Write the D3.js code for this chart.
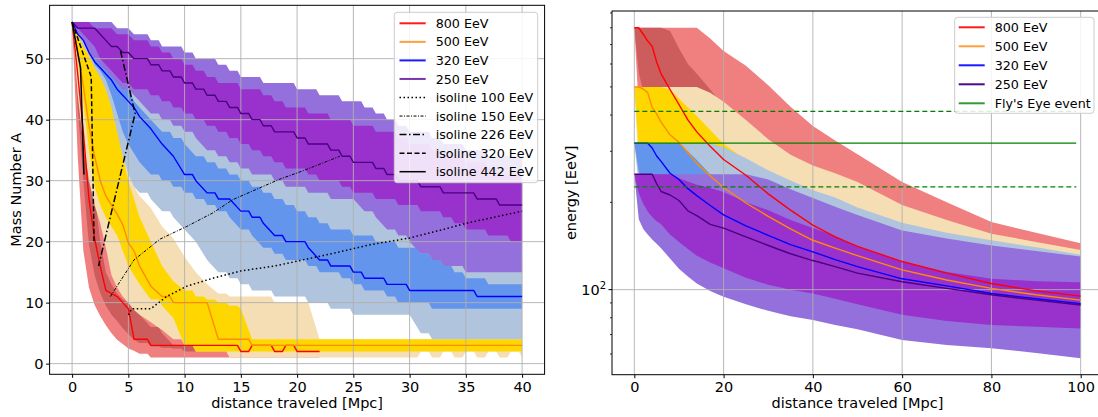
<!DOCTYPE html>
<html>
<head>
<meta charset="utf-8">
<script src="https://cdn.jsdelivr.net/npm/d3@7"></script>
<style>
  body { margin: 0; background: #fff; }
  svg text { font-family: "DejaVu Sans", sans-serif; fill: #000; }
</style>
</head>
<body>
<svg id="fig" width="1098" height="417"></svg>
<script>
// ---- left panel: mass number vs distance ----
var massDist = [0,0.5,1,1.5,2,2.5,3,3.5,4,4.5,5,5.5,6,
  7,8,9,10,11,12,13,14,15,16,17,18,19,20,21,22,23,24,25,26,27,28,29,30,31,32,33,34,35,36,37,38,39,40];

var a800Hi2 = [56,55.5,53,46,37,28,21,17,14.5,12.5,11,10,9,
  7,6,5,4,4,4,4,3.5,3,3,3,3,3,3,3,3, null,null,null,null,null,null,null,null,null,null,null,null,null,null,null,null,null,null];
var a800Hi1 = [56,54,48,38,28,20,15,13,11.5,10.5,10,9,8,
  6,5,3,3,3,3,3,3,3,3,3,3,3,3,3,3, null,null,null,null,null,null,null,null,null,null,null,null,null,null,null,null,null,null];
var a800Med = [56,47.5,38,27,20.5,16,12,11.5,11,10,9,4,4,
  3,3,3,3,3,3,3,3,2,3,3,2,3,2,2,2, null,null,null,null,null,null,null,null,null,null,null,null,null,null,null,null,null,null];
var a800Lo1 = [56,42,30,19.5,14.5,11.6,9.5,8,7,5.8,4.8,3.9,3.4,
  2.8,2.6,2.5,2,2,2,2,2,2,2,2,2,2,2,2,2, null,null,null,null,null,null,null,null,null,null,null,null,null,null,null,null,null,null];
var a800Lo2 = [56,34,18.5,12.5,9.6,7.8,6.3,5,3.9,3.2,2.5,2.1,1.6,
  1,1,1,1,1,1,1,1,1,1,1,1,1,1,1,1, null,null,null,null,null,null,null,null,null,null,null,null,null,null,null,null,null,null];

var a500Hi2 = [56,55.5,54.5,53,51,49,47,44,40,35,31,29,27.5,
  25.5,22.5,20.5,17.5,15,13,11.5,11,11,11,11,10,10,10,10,4,4,4,4,4,4,4,4,4,4,4,4,4,4,4,4,4,4,4];
var a500Hi1 = [56,55,54,52,50,48,46,43,39,34,30,27,24,
  20,16,13.5,12,11,10.5,10,9.5,9,4,4,4,4,4,4,4,4,4,4,4,4,4,4,4,4,4,4,4,4,4,4,4,4,4];
var a500Med = [56,51,45.5,39,34,30,27.5,26,24.5,22.8,19.8,18.5,16,
  12.7,11,10,10,10,10,4,4,4,3,3,3,3,3,3,3,3,3,3,3,3,3,3,3,3,3,3,3,3,3,3,3,3,3];
var a500Lo1 = [56,50,43,35,29,26,24,22.5,21,18.5,16,14.5,13,
  10.5,9.5,7.5,3,2,2,2,2,2,2,2,2,2,2,2,2,2,2,2,2,2,2,2,2,2,2,2,2,2,2,2,2,2,2];
var a500Lo2 = [56,44,36,30,26,23,19,14.5,12.5,11,10,8.8,8,
  6.8,5.5,4,3,2,2,2,1,1,1,1,1,1,1,1,1,1,1,1,1,1,1,1,1,2,1,2,1,2,1,2,1,2,1];

var a320Hi2 = [56,55,54,53,52,51,50,49,48,47,47,46,45,
  43,42,41,40,39,37,36,35,34,33,33,32,31,31,30,30,29,29,29,27,26,24,23,22,20,19,18,18,17,17,17,17,17,17];
var a320Hi1 = [56,55,55,54,53,51,50,48,47,46,45,43,42,
  40,38,37,36,34,33,32,31,30,29,28,27,26,25,24,23,22,22,21,21,20,20,19,19,18,17,16,15,14,14,13,13,13,13];
var a320Med = [56,54,53,51,49.5,48.5,47.5,46.5,45,44,43,42,40.5,
  38.5,36,34,31,30,28,27,27,25,24,23,21,20,20,19,17,16,16,15,14,14,13,13,12,12,12,12,12,12,11,11,11,11,11];
var a320Lo1 = [56,54.5,53,51.5,49,48,46.5,44,41,38,36,34.5,33,
  31,30,29,28,27,26,25,24,22,21,19,18,17,17,16,15,15,14,13,12,12,11,10,10,10,9,9,9,9,9,9,9,9,9];
var a320Lo2 = [56,54,52,50.5,48.5,47,45,42,38,34,31,29,28,
  27,25,24,22,20,17,15,14,13,12,12,11,11,11,10,10,9,9,8,8,8,8,8,8,5,4,4,4,4,4,4,4,4,4];

var a250Hi2 = [56,56,56,56,56,56,56,56,55,55,55,54,54,
  53,52,52,51,50,50,49,48,47,47,46,46,46,45,45,44,44,43,43,42,41,40,39,38,38,37,36,36,35,35,34,34,34,34];
var a250Hi1 = [56,56,56,56,55,55,55,55,54,54,54,53,53,
  52,51,50,49,48,47,46,46,45,45,44,43,42,42,41,41,40,40,39,39,38,38,37,36,36,35,34,34,33,33,32,31,31,30];
var a250Med = [56,55,55,55,55,54,53,52,52,51,51,50,50,
  49,48,47,46,45,44,43,42,41,40,39,38,38,37,36,36,35,34,33,33,32,31,30,30,29,29,28,28,28,27,27,26,26,26];
var a250Lo1 = [56,55,54,53,52,50,49,48,47,46,46,45,45,
  44,43,42,41,40,39,38,37,36,35,34,33,32,32,31,30,30,29,28,28,27,27,26,26,25,25,24,23,22,22,21,21,20,20];
var a250Lo2 = [56,54,53,51,50,49,48,47,46,45,45,44,43,
  41,40,39,38,37,35,34,33,32,31,31,30,29,29,28,28,27,27,27,25,24,22,21,20,18,17,16,16,15,15,15,15,15,15];

// isolines: [distance, A]
var iso100 = [[5,8],[5.3,9],[7,9],[8.4,11],[10.2,12.7],[12.5,14],[15,15.2],[18,16],[20.5,17],[23.5,18.2],[26.5,19.5],[30,20.6],[33,22],[35,23],[40,25]];
var iso150 = [[3.4,11],[5.5,17],[7.8,20.4],[10.2,22.5],[12.5,24.7],[14.3,26.9],[18.4,30.2],[20.5,31.6],[23.8,34]];
var iso226 = [[4.3,51.3],[5.6,41],[2.35,16]];
var iso320 = [[0,56],[1.7,47],[1.9,26],[1.95,20]];
var iso442 = [[0,56],[0.75,48.5],[1.05,31]];

// ---- right panel: energy vs distance ----
var enDist = [0,1,2,3,4,5,6,8,10,12,14,17,20,25,30,35,40,45,50,60,70,80,90,100];

var e800Hi2 = [800,800,800,800,800,800,800,800,800,800,800,735,665,592,507,427,367,327,293,235,200,171,157,144.5];
var e800Hi1 = [800,800,800,800,800,800,800,780,680,600,555,490,430,370,320,282,258,240,225,188,165,148,138,130];
var e800Med = [800,800,760,720,690,610,555,490,435,385,350,312,281,248,214,188,167,152,141,125,114,105,99,95];
var e800Lo1 = [800,560,480,440,410,385,365,335,310,290,272,250,232,208,188,172,158,147,138,122,110,100,93,87];
var e800Lo2 = [800,420,370,340,320,305,292,270,252,238,226,210,196,176,160,147,136,127,120,107,97,89,83,78];

var e500Hi2 = [500,500,500,500,500,500,500,500,500,500,500,478,445,385,330,292,268,252,235,196,174,156,146,137];
var e500Hi1 = [500,500,500,500,500,500,500,490,455,425,397,355,318,280,250,228,210,196,184,160,148,136,128,120];
var e500Med = [500,500,492,478,425,404,378,342,322,297,272,247,225,199,179,162,148,139,131,117,108,101,96,92];
var e500Lo1 = [500,300,275,260,250,242,235,222,210,200,192,180,170,155,143,133,125,118,112,103,96,90,85,81];
var e500Lo2 = [500,250,235,225,218,212,207,198,190,182,176,167,160,147,136,127,119,113,108,99,92,86,81,77];

var e320Hi2 = [320,320,320,320,320,320,320,320,320,320,320,320,310,284,258,238,220,208,192,170,157,148,140,132];
var e320Hi1 = [320,320,320,320,320,320,320,320,320,300,280,250,235,215,200,188,178,168,160,145,135,127,120,115];
var e320Med = [320,320,320,320,308,289,277,252,240,223,211,195,181,166,154,143,135,127,120,109,103,97,93,89.5];
var e320Lo1 = [320,255,240,232,225,218,212,202,194,186,180,171,164,152,141,132,125,119,113,104,97,91,86,82];
var e320Lo2 = [320,230,215,207,200,194,189,181,174,168,163,156,150,140,131,123,117,111,106,98,91,86,81,77];

var e250Hi2 = [250,250,250,250,250,250,250,250,250,250,250,250,250,250,240,222,207,193,181,160,150,142,136,130];
var e250Hi1 = [250,250,250,250,250,250,250,250,242,236,230,224,217,200,188,174,163,153,141,125,115,109,107,106];
var e250Med = [250,250,250,250,250,232,218,212,203,187,180,168,163,152,142,133,126,120,114,106.5,101,96,92,88.5];
var e250Lo1 = [250,215,198,186,178,172,168,155,146,138,131,124,118.5,110,104,100,97,93,89,82,78,75.5,74.5,73.5];
var e250Lo2 = [250,175,162,155,149,144,139,128,118,111,105,99,94.6,89,84.5,81,78.6,75.5,73,67,64.5,62.8,60.5,58];

var flyEye = 320, flyEyeLow = 226, flyEyeHigh = 412;
var flyEyeSpan = [0, 99];

var energyLabels = ["800 EeV", "500 EeV", "320 EeV", "250 EeV"];
var isoLabels = ["isoline 100 EeV", "isoline 150 EeV", "isoline 226 EeV", "isoline 320 EeV", "isoline 442 EeV"];

var outerFill = ["#f08080", "#f5deb3", "#b0c4de", "#9370db"];
var innerFill = ["#cd5c5c", "#ffd700", "#6495ed", "#9932cc"];
var lineColor = ["#ff0000", "#ff8c00", "#0000ff", "#4b0082"];

var svg = d3.select("#fig");
var FS = 14.5;

function stairs(xs, vs) {
  var pts = [];
  for (var i = 0; i < xs.length; i++) {
    if (vs[i] == null) continue;
    pts.push([xs[i], vs[i]]);
    var nv = vs[i + 1];
    if (nv != null && xs[i + 1] - xs[i] >= 1 && nv !== vs[i] && Math.abs(nv - vs[i]) <= 1) {
      pts.push([xs[i + 1] - 0.3, vs[i]]);
    }
  }
  return pts;
}
function pairs(xs, vs) {
  var pts = [];
  for (var i = 0; i < xs.length; i++) if (vs[i] != null) pts.push([xs[i], vs[i]]);
  return pts;
}

function drawPanel(o) {
  var g = svg.append("g");
  var x = o.x, y = o.y;
  var line = d3.line().x(function(d){ return x(d[0]); }).y(function(d){ return y(d[1]); });
  var clipId = "clip" + o.id;
  svg.append("clipPath").attr("id", clipId).append("rect")
    .attr("x", o.box[0]).attr("y", o.box[1]).attr("width", o.box[2] - o.box[0]).attr("height", o.box[3] - o.box[1]);
  var plot = g.append("g").attr("clip-path", "url(#" + clipId + ")");

  // bands
  o.series.forEach(function(s, k) {
    [[s.lo2, s.hi2, outerFill[k]], [s.lo1, s.hi1, innerFill[k]]].forEach(function(b) {
      var up = o.pts(o.dist, b[1]), lo = o.pts(o.dist, b[0]).reverse();
      plot.append("path").attr("d", line(up.concat(lo)) + "Z").attr("fill", b[2]).attr("stroke", "none");
    });
  });

  // grid
  o.xTicks.forEach(function(t) {
    plot.append("line").attr("x1", x(t)).attr("x2", x(t)).attr("y1", o.box[1]).attr("y2", o.box[3])
      .attr("stroke", "#b0b0b0").attr("stroke-width", 0.9);
  });
  o.yGrid.forEach(function(t) {
    plot.append("line").attr("x1", o.box[0]).attr("x2", o.box[2]).attr("y1", y(t)).attr("y2", y(t))
      .attr("stroke", "#b0b0b0").attr("stroke-width", 0.9);
  });

  // medians
  o.series.forEach(function(s, k) {
    plot.append("path").attr("d", line(o.pts(o.dist, s.med))).attr("fill", "none")
      .attr("stroke", lineColor[k]).attr("stroke-width", 1.4).attr("stroke-linejoin", "round");
  });
  if (o.extra) o.extra(plot, line);

  // frame
  g.append("rect").attr("x", o.box[0]).attr("y", o.box[1])
    .attr("width", o.box[2] - o.box[0]).attr("height", o.box[3] - o.box[1])
    .attr("fill", "none").attr("stroke", "#000").attr("stroke-width", 1);

  // x axis
  var xa = g.append("g").attr("transform", "translate(0," + o.box[3] + ")")
    .call(d3.axisBottom(x).tickValues(o.xTicks).tickSize(3.5).tickPadding(3.5).tickFormat(d3.format("d")));
  xa.select(".domain").remove();
  xa.selectAll("text").style("font-size", FS + "px");
  g.append("text").attr("x", (o.box[0] + Math.min(o.box[2], o.xEnd)) / 2).attr("y", 408)
    .attr("text-anchor", "middle").style("font-size", FS + "px").text("distance traveled [Mpc]");
  g.append("text").attr("transform", "translate(" + o.yLabelX + "," + ((o.box[1] + o.box[3]) / 2) + ") rotate(-90)")
    .attr("text-anchor", "middle").style("font-size", FS + "px").text(o.yLabel);
  return g;
}

function drawLegend(g, items, bx, by, bw, bh, rowY, hx0, hx1, tx) {
  g.append("rect").attr("x", bx).attr("y", by).attr("width", bw).attr("height", bh)
    .attr("rx", 3).attr("fill", "#fff").attr("fill-opacity", 0.85).attr("stroke", "#cccccc").attr("stroke-width", 1);
  items.forEach(function(it, i) {
    var yy = rowY + i * ((bh - 2 * (rowY - by)) / (items.length - 1));
    g.append("line").attr("x1", hx0).attr("x2", hx1).attr("y1", yy).attr("y2", yy)
      .attr("stroke", it.color).attr("stroke-width", it.width).attr("stroke-dasharray", it.dash || null);
    g.append("text").attr("x", tx).attr("y", yy + 4.6).style("font-size", "12.7px").text(it.label);
  });
}

// ---------- left panel ----------
var xL = d3.scaleLinear([-2, 42], [49.6, 544.6]);
var yL = d3.scaleLinear([-1.75, 58.75], [374.3, 5.3]);
var isoStyles = [
  { data: iso100, dash: "1.5,2.5", width: 1.5 },
  { data: iso150, dash: "3,1.5,1,1.5", width: 1 },
  { data: iso226, dash: "7,2.5,1.5,2.5", width: 1.5 },
  { data: iso320, dash: "5,2.5", width: 1.5 },
  { data: iso442, dash: null, width: 1.5 }
];
var gL = drawPanel({
  id: "L", x: xL, y: yL, box: [49.6, 5.3, 544.6, 374.3], xEnd: 544.6,
  dist: massDist, pts: stairs,
  series: [
    { hi2: a800Hi2, hi1: a800Hi1, med: a800Med, lo1: a800Lo1, lo2: a800Lo2 },
    { hi2: a500Hi2, hi1: a500Hi1, med: a500Med, lo1: a500Lo1, lo2: a500Lo2 },
    { hi2: a320Hi2, hi1: a320Hi1, med: a320Med, lo1: a320Lo1, lo2: a320Lo2 },
    { hi2: a250Hi2, hi1: a250Hi1, med: a250Med, lo1: a250Lo1, lo2: a250Lo2 }
  ],
  xTicks: d3.range(0, 41, 5), yGrid: d3.range(0, 51, 10),
  yLabel: "Mass Number A", yLabelX: 20.5,
  extra: function(plot, line) {
    isoStyles.forEach(function(s) {
      plot.append("path").attr("d", line(s.data)).attr("fill", "none").attr("stroke", "#000")
        .attr("stroke-width", s.width).attr("stroke-dasharray", s.dash);
    });
  }
});
var yaL = gL.append("g").attr("transform", "translate(49.6,0)")
  .call(d3.axisLeft(yL).tickValues(d3.range(0, 51, 10)).tickSize(3.5).tickPadding(2.5));
yaL.select(".domain").remove();
yaL.selectAll("text").style("font-size", FS + "px");

var legL = energyLabels.map(function(l, i) {
  return { label: l, color: ["#ff1a1a", "#ffa040", "#1a1aff", "#7a35a8"][i], width: 2 };
}).concat(isoStyles.map(function(s, i) {
  return { label: isoLabels[i], color: "#000", width: s.width, dash: s.dash };
}));
drawLegend(gL, legL, 394.3, 12.3, 143.4, 170.4, 23.3, 399.5, 425.7, 435.7);

// ---------- right panel ----------
var xR = d3.scaleLinear([-5, 105], [612, 1103]);
var yR = d3.scaleLog([50.9, 914], [374.7, 11]);
var gR = drawPanel({
  id: "R", x: xR, y: yR, box: [612, 11, 1103, 374.7], xEnd: 1103,
  dist: enDist, pts: pairs,
  series: [
    { hi2: e800Hi2, hi1: e800Hi1, med: e800Med, lo1: e800Lo1, lo2: e800Lo2 },
    { hi2: e500Hi2, hi1: e500Hi1, med: e500Med, lo1: e500Lo1, lo2: e500Lo2 },
    { hi2: e320Hi2, hi1: e320Hi1, med: e320Med, lo1: e320Lo1, lo2: e320Lo2 },
    { hi2: e250Hi2, hi1: e250Hi1, med: e250Med, lo1: e250Lo1, lo2: e250Lo2 }
  ],
  xTicks: d3.range(0, 101, 20), yGrid: [100],
  yLabel: "energy [EeV]", yLabelX: 576,
  extra: function(plot, line) {
    [[flyEyeHigh, "5,3"], [flyEye, null], [flyEyeLow, "5,3"]].forEach(function(h) {
      plot.append("path").attr("d", line(flyEyeSpan.map(function(d){ return [d, h[0]]; })))
        .attr("fill", "none").attr("stroke", "#008000").attr("stroke-width", 1.3)
        .attr("stroke-dasharray", h[1]);
    });
  }
});
// log y axis ticks
var minorTicks = [60, 70, 80, 90, 200, 300, 400, 500, 600, 700, 800, 900];
minorTicks.forEach(function(t) {
  gR.append("line").attr("x1", 612).attr("x2", 610).attr("y1", yR(t)).attr("y2", yR(t))
    .attr("stroke", "#000").attr("stroke-width", 0.8);
});
gR.append("line").attr("x1", 612).attr("x2", 608.5).attr("y1", yR(100)).attr("y2", yR(100))
  .attr("stroke", "#000").attr("stroke-width", 1);
var lab = gR.append("text").attr("x", 606).attr("y", yR(100) + 5).attr("text-anchor", "end").style("font-size", FS + "px");
lab.append("tspan").text("10");
lab.append("tspan").attr("dy", -6).style("font-size", "10px").text("2");

var legR = energyLabels.map(function(l, i) {
  return { label: l, color: ["#ff1a1a", "#ffa040", "#1a1aff", "#4b0a8c"][i], width: 2 };
}).concat([{ label: "Fly's Eye event", color: "#339933", width: 2 }]);
drawLegend(gR, legR, 954.7, 17.3, 139.3, 96, 27.3, 958.7, 984.7, 994.7);
</script>
</body>
</html>
